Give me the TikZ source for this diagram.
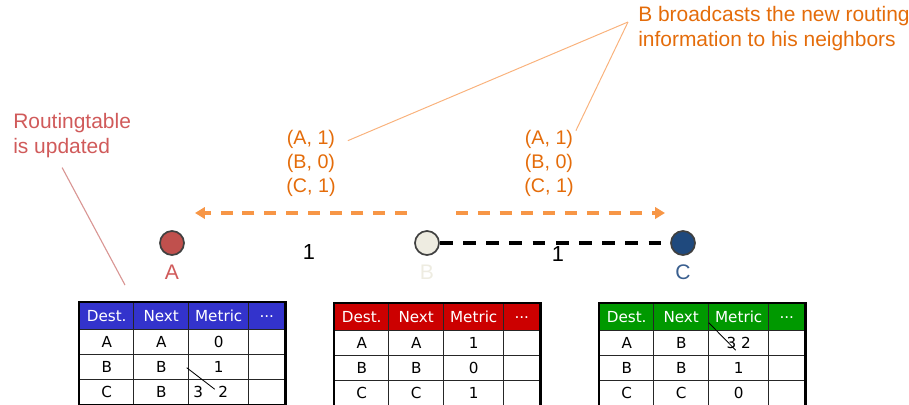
\documentclass[tikz,border=0pt]{standalone}
\usepackage{fontspec}
\setmainfont{Liberation Sans}
\newfontfamily\tablefont{DejaVu Sans}
\usepackage{xcolor}
\usetikzlibrary{arrows.meta,matrix}

\definecolor{nodeRed}{HTML}{C0504D}
\definecolor{labRed}{HTML}{D05A5A}
\definecolor{nodeSand}{HTML}{EEECE1}
\definecolor{nodeNavy}{HTML}{1F497D}
\definecolor{labNavy}{HTML}{3A5F8F}
\definecolor{bcOrange}{HTML}{E46C0A}
\definecolor{arrOrange}{HTML}{F79646}
\definecolor{lineOrange}{HTML}{F9B27C}
\definecolor{linePink}{HTML}{D99694}
\definecolor{tblBlue}{HTML}{3333CC}
\definecolor{tblRed}{HTML}{CC0000}
\definecolor{tblGreen}{HTML}{009900}

\begin{document}
\begin{tikzpicture}[
    x=0.025cm, y=-0.025cm,
    router/.style={circle,draw=black!75,line width=1.2pt,minimum size=0.6cm,inner sep=0pt},
    rlabel/.style={font=\fontsize{15}{18}\selectfont},
    cost/.style={font=\fontsize{15.5}{18}\selectfont},
    tuple/.style={text=bcOrange,align=center,inner sep=0pt,font=\fontsize{14}{17}\selectfont},
    note/.style={align=left,inner sep=0pt,font=\fontsize{14.9}{17.8}\selectfont},
    link/.style={line width=2.5pt,dash pattern=on 9pt off 7.5pt},
    bcast/.style={draw=arrOrange,line width=2.5pt,dash pattern=on 8.5pt off 7pt,-{Triangle[length=7pt,width=8pt]}},
    callout/.style={draw=lineOrange,line width=0.7pt},
    rtable/.style={matrix of nodes,inner sep=0pt,outer sep=0pt,anchor=north west,
        row sep=-1pt,column sep=-1pt,nodes in empty cells,
        nodes={draw=black!85,line width=1pt,inner sep=0pt,outer sep=0pt,anchor=center,
            minimum height=0.625cm,font=\tablefont\fontsize{10.8}{12}\selectfont},
        column 1/.style={nodes={minimum width=1.35cm}},
        column 2/.style={nodes={minimum width=1.375cm}},
        column 3/.style={nodes={minimum width=1.5cm}},
        column 4/.style={nodes={minimum width=0.9cm}},
        row 1/.style={nodes={fill=#1,text=white,minimum height=0.675cm}}},
    frame/.style={draw=black,line width=1.8pt}
]
\useasboundingbox (0,0) rectangle (909,404);

% routers
\node[router,fill=nodeRed] (A) at (172,243) {};
\node[router,fill=nodeSand] (B) at (427,243) {};
\node[router,fill=nodeNavy] (C) at (683,243) {};
\node[rlabel,text=labRed] (labA) at (172,272) {A};
\node[rlabel,text=nodeSand] (labB) at (427,272) {B};
\node[rlabel,text=labNavy] (labC) at (683,272) {C};
\node[cost] (costAB) at (309,252) {1};
\node[cost] (costBC) at (558,254) {1};
\draw[link] (B) -- (C);

% broadcast of B
\coordinate (bcL0) at (407,213);
\coordinate (bcL1) at (195,213);
\coordinate (bcR0) at (456,213);
\coordinate (bcR1) at (665,213);
\draw[bcast] (bcL0) -- (bcL1);
\draw[bcast] (bcR0) -- (bcR1);
\node[tuple] (tupL) at (311,163) {(A, 1)\\(B, 0)\\(C, 1)};
\node[tuple] (tupR) at (549,163) {(A, 1)\\(B, 0)\\(C, 1)};

% notes
\node[note,text=bcOrange,anchor=west] (bcNote) at (638,29) {B broadcasts the new routing\\information to his neighbors};
\draw[callout] ([shift={(-10,-7)}]bcNote.west) -- ([shift={(12,11)}]tupL.north east);
\draw[callout] ([shift={(-10,-7)}]bcNote.west) -- ([shift={(2,1)}]tupR.north east);
\node[note,text=labRed,anchor=west] (updNote) at (13,136) {Routingtable\\is updated};
\coordinate (updTip) at (125,285);
\draw[draw=linePink,line width=0.8pt] ([shift={(-10,9)}]updNote.south) -- (updTip);

% routing tables
\matrix[rtable=tblBlue] (tblA) at (79,302) {
  Dest. & Next & Metric & ... \\
  A & A & 0 & \\
  B & B & 1 & \\
  C & B & 3\hspace{0.38cm}2\hspace{0.4cm} & \\
};
\draw[frame] (tblA.north west) rectangle (tblA.south east);
\draw[line width=0.6pt] ([shift={(-2,-12)}]tblA-4-3.north west) -- ([shift={(-4,-3)}]tblA-4-3.center);

\matrix[rtable=tblRed] (tblB) at (334,303) {
  Dest. & Next & Metric & ... \\
  A & A & 1 & \\
  B & B & 0 & \\
  C & C & 1 & \\
};
\draw[frame] (tblB.north west) rectangle (tblB.south east);

\matrix[rtable=tblGreen] (tblC) at (599,303) {
  Dest. & Next & Metric & ... \\
  A & B & 3\hspace{0.12cm}2 & \\
  B & B & 1 & \\
  C & C & 0 & \\
};
\draw[frame] (tblC.north west) rectangle (tblC.south east);
\draw[line width=0.6pt] ([shift={(0,-8)}]tblC-2-3.north west) -- ([shift={(-3,7)}]tblC-2-3.center);
\end{tikzpicture}
\end{document}
